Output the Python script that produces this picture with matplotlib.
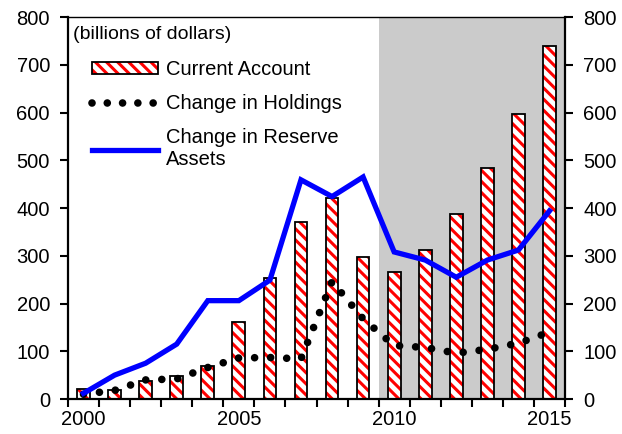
import matplotlib
matplotlib.use("Agg")
import matplotlib.pyplot as plt
from matplotlib.lines import Line2D
from matplotlib.patches import Patch
from matplotlib.legend_handler import HandlerTuple

plt.rcParams['font.family'] = ['Liberation Sans', 'DejaVu Sans']
plt.rcParams['hatch.linewidth'] = 2.2

years = list(range(2000, 2016))
current_account = [22, 19, 37, 48, 70, 162, 254, 371, 420, 298, 265, 312, 387, 483, 596, 740]
change_holdings = [10, 18, 40, 42, 66, 86, 87, 84, 246, 168, 112, 108, 96, 104, 117, 140]
reserve_assets = [12, 50, 75, 115, 206, 206, 249, 459, 424, 465, 308, 291, 255, 291, 312, 394]
year_labels = [2000, 2005, 2010, 2015]

fig = plt.figure(figsize=(6.22, 4.34), dpi=100)
ax = fig.add_axes([0.1093, 0.0806, 0.7991, 0.8802])

# shaded period
ax.axvspan(2009.5, 2015.5, color='#cbcbcb', lw=0, zorder=0)

# bars: red hatch first, black outline on top
ax.bar(years, current_account, width=0.41, color='white', edgecolor='#ff0000',
       hatch='\\\\\\', linewidth=0, zorder=2)
ax.bar(years, current_account, width=0.41, fill=False, edgecolor='black',
       linewidth=1.3, zorder=3)

dots = (0, (0.001, 2.1))
ax.plot(years, change_holdings, color='black', lw=5.5, linestyle=dots,
        dash_capstyle='round', zorder=4)
ax.plot(years, reserve_assets, color='#0000ff', lw=3.8, solid_joinstyle='miter', zorder=5)

ax.set_xlim(1999.5, 2015.5)
ax.set_ylim(0, 800)
ax.set_yticks(range(0, 801, 100))
ax.set_xticks([y - 0.5 for y in years] + [2015.5])
ax.set_xticklabels([])
ax.set_xticks(year_labels, minor=True)
ax.set_xticklabels([str(y) for y in year_labels], minor=True)
ax.tick_params(axis='x', which='major', direction='out', length=6, width=1.5)
ax.tick_params(axis='x', which='minor', length=0, labelsize=14.5, pad=8)
ax.tick_params(axis='y', direction='out', length=6, width=1.5, labelsize=14.5,
               right=True, labelright=True, pad=7)

for side in ['left', 'right', 'bottom']:
    ax.spines[side].set_linewidth(1.6)
ax.spines['top'].set_linewidth(1.0)

ax.text(0.01, 0.955, '(billions of dollars)', transform=ax.transAxes,
        fontsize=14, va='center', ha='left')

ca_handle = (Patch(facecolor='white', edgecolor='#ff0000', hatch='\\\\\\', linewidth=0),
             Patch(fill=False, edgecolor='black', linewidth=1.3))
handles = [
    ca_handle,
    Line2D([], [], color='black', lw=5.5, linestyle=(0, (0.001, 2.0)), dash_capstyle='round'),
    Line2D([], [], color='#0000ff', lw=3.8),
]
labels = ['Current Account', 'Change in Holdings', 'Change in Reserve\nAssets']
ax.legend(handles, labels, loc='upper left', bbox_to_anchor=(0.048, 0.887),
          frameon=False, fontsize=14.5, borderpad=0, borderaxespad=0,
          handlelength=3.3, handleheight=0.55, handletextpad=0.4, labelspacing=0.75,
          handler_map={tuple: HandlerTuple(ndivide=1, pad=0)})

fig.savefig('out.png', dpi=100)
